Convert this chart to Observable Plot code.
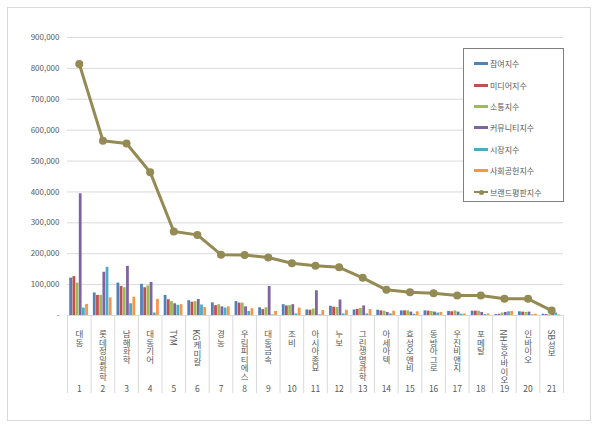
<!DOCTYPE html>
<html><head><meta charset="utf-8">
<script src="https://cdn.jsdelivr.net/npm/d3@7"></script>
<script src="https://cdn.jsdelivr.net/npm/@observablehq/plot@0.6"></script>
<style>
body{margin:0;background:#fff;font-family:"Noto Sans CJK KR","Noto Sans",sans-serif;}
#wrap{position:relative;width:600px;height:427px;}
#wrap svg{position:absolute;left:0;top:0;}
#frame{position:absolute;left:7px;top:7px;width:582px;height:412px;border:1px solid #d9d9d9;pointer-events:none;}
#legend{position:absolute;left:463px;top:48px;width:101px;height:154px;border:1px solid #7f7f7f;background:#fff;box-sizing:border-box;}
.item{position:absolute;left:10px;height:12px;font-size:8px;color:#595959;display:flex;align-items:center;white-space:nowrap;}
.sw{width:14px;height:3px;margin-right:2px;position:relative;}
</style></head><body><div id="wrap"><div id="frame"></div><div id="legend"></div></div>
<script>
const names = ["대동","롯데정밀화학","남해화학","대동기어","TYM","KG케미칼","경농","우림피티에스","대동금속","조비","아시아종묘","누보","그린생명과학","아세아텍","효성오앤비","동방아그로","우진비앤지","포메탈","NH농우바이오","인바이오","SB성보"];
const ranks = d3.range(1, 22);
const seriesNames = ["참여지수","미디어지수","소통지수","커뮤니티지수","시장지수","사회공헌지수"];
const lineName = "브랜드평판지수";
const participation = [121,73,105,101,65,48,41,45,25,35,18,30,18,17,15,15,13,14,3,12,4].map(v=>v*1000);
const media =         [126,65,94,90,51,43,32,40,19,31,17,27,20,15,15,14,12,14,4,11,3].map(v=>v*1000);
const communication = [105,65,90,96,45,45,35,40,25,32,21,26,23,14,15,13,15,14,8,10,2].map(v=>v*1000);
const community =     [394,140,159,107,38,52,28,28,94,35,80,50,31,10,11,11,11,10,10,11,4].map(v=>v*1000);
const market =        [24,156,38,8,33,34,24,13,2,5,2,5,5,5,4,8,4,3,12,2,8].map(v=>v*1000);
const social =        [36,57,59,52,35,26,28,22,13,24,16,17,19,14,12,10,5,5,13,4,2].map(v=>v*1000);
const brand =         [814,566,557,464,272,261,197,196,188,169,161,156,122,83,75,72,65,65,54,54,16].map(v=>v*1000);
const yTicks = d3.range(0, 900001, 100000);
const colors = ["#4f81bd","#c0504d","#9bbb59","#8064a2","#4bacc6","#f79646"];
const lineColor = "#948a54";

const seriesValues = [participation, media, communication, community, market, social];
const slot = 0.135, barW = 0.118, start = -0.5 + 0.095;
const bars = [];
seriesValues.forEach((vals, s) => vals.forEach((v, i) => {
  const x1 = ranks[i] + start + s * slot;
  bars.push({series: seriesNames[s], x1, x2: x1 + barW, value: v});
}));
const lineData = ranks.map((r, i) => ({rank: r, value: brand[i]}));

const chart = Plot.plot({
  width: 600, height: 427,
  marginLeft: 67, marginRight: 37, marginTop: 37, marginBottom: 112,
  style: {fontFamily: '"Noto Sans CJK KR","Noto Sans",sans-serif', color: "#595959", background: "transparent"},
  x: {domain: [0.5, 21.5]},
  y: {domain: [0, 900000]},
  color: {domain: seriesNames, range: colors},
  marks: [
    Plot.gridY(yTicks, {stroke: "#d9d9d9", strokeOpacity: 1}),
    Plot.axisY(yTicks, {tickSize: 0, tickPadding: 8, fontSize: 8, label: null,
      tickFormat: d => d === 0 ? "-" : d3.format(",")(d)}),
    Plot.axisX(d3.range(0.5, 22, 1), {tickSize: 78, stroke: "#d9d9d9", tickFormat: () => "", label: null}),
    Plot.axisX(ranks, {tickSize: 0, tickPadding: 8, fontSize: 8.5, tickFormat: i => names[i - 1], label: null}),
    Plot.axisX(ranks, {tickSize: 0, tickPadding: 70, fontSize: 8.5, tickFormat: i => String(i), label: null}),
    Plot.rectY(bars, {x1: "x1", x2: "x2", y: "value", fill: "series"}),
    Plot.line(lineData, {x: "rank", y: "value", stroke: lineColor, strokeWidth: 3}),
    Plot.dot(lineData, {x: "rank", y: "value", r: 4, fill: lineColor})
  ]
});
document.getElementById("wrap").insertBefore(chart, document.getElementById("frame"));
d3.select(chart).selectAll("text").each(function() {
  const t = d3.select(this);
  if (names.includes(t.text())) {
    t.style("writing-mode", "vertical-rl").attr("text-anchor", "start").attr("dy", null);
  }
});

const legend = document.getElementById("legend");
const ys = [14, 36, 57, 78, 100, 121, 143];
seriesNames.concat([lineName]).forEach((n, k) => {
  const it = document.createElement("div");
  it.className = "item";
  it.style.top = (ys[k] - 6) + "px";
  const sw = document.createElement("div");
  sw.className = "sw";
  if (k < 6) { sw.style.background = colors[k]; }
  else {
    sw.style.height = "2px"; sw.style.background = lineColor;
    const dot = document.createElement("div");
    dot.style.cssText = `position:absolute;left:4.5px;top:-1.5px;width:5px;height:5px;border-radius:50%;background:${lineColor}`;
    sw.appendChild(dot);
  }
  it.appendChild(sw);
  it.appendChild(document.createTextNode(n));
  legend.appendChild(it);
});
</script></body></html>
